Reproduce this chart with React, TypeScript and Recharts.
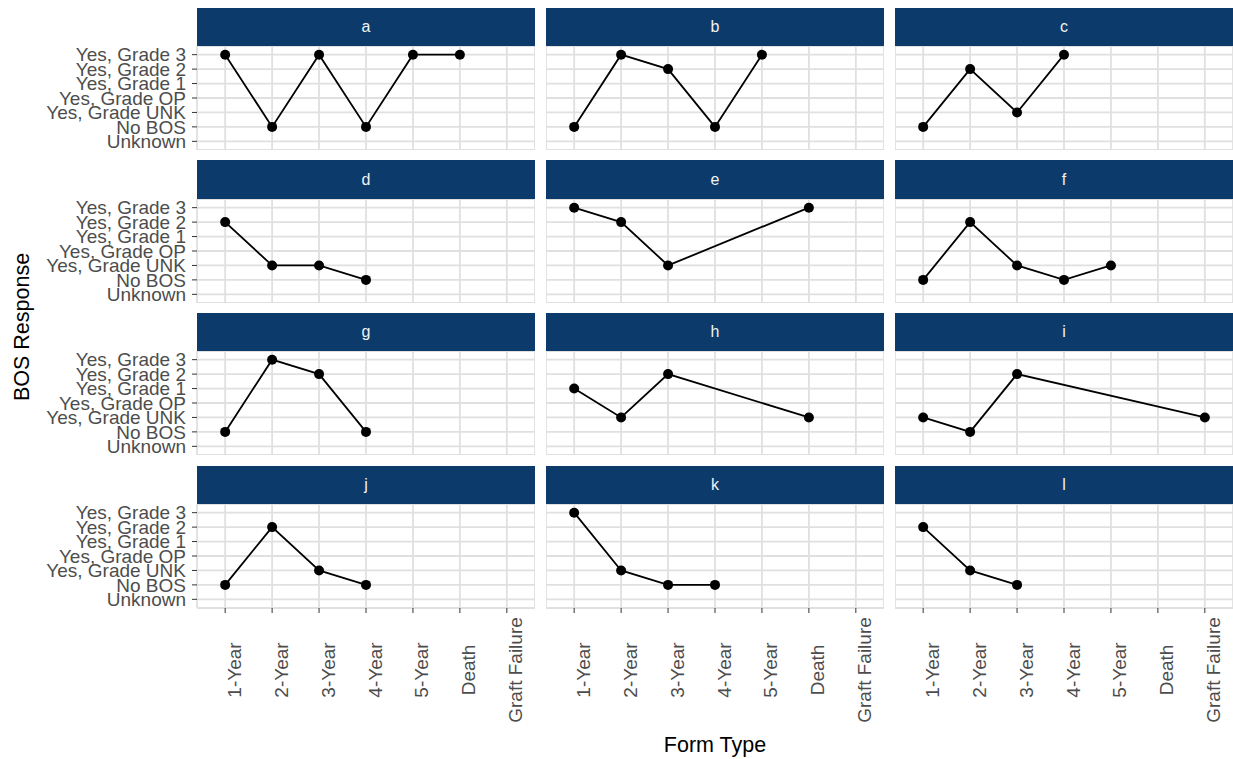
import { CartesianGrid, Line, LineChart, XAxis, YAxis } from "recharts";

const formTypes = ["1-Year", "2-Year", "3-Year", "4-Year", "5-Year", "Death", "Graft Failure"];

const bosLevels = [
  "Unknown",
  "No BOS",
  "Yes, Grade UNK",
  "Yes, Grade OP",
  "Yes, Grade 1",
  "Yes, Grade 2",
  "Yes, Grade 3",
];

const panelA: [string, string][] = [
  ["1-Year", "Yes, Grade 3"],
  ["2-Year", "No BOS"],
  ["3-Year", "Yes, Grade 3"],
  ["4-Year", "No BOS"],
  ["5-Year", "Yes, Grade 3"],
  ["Death", "Yes, Grade 3"],
];
const panelB: [string, string][] = [
  ["1-Year", "No BOS"],
  ["2-Year", "Yes, Grade 3"],
  ["3-Year", "Yes, Grade 2"],
  ["4-Year", "No BOS"],
  ["5-Year", "Yes, Grade 3"],
];
const panelC: [string, string][] = [
  ["1-Year", "No BOS"],
  ["2-Year", "Yes, Grade 2"],
  ["3-Year", "Yes, Grade UNK"],
  ["4-Year", "Yes, Grade 3"],
];
const panelD: [string, string][] = [
  ["1-Year", "Yes, Grade 2"],
  ["2-Year", "Yes, Grade UNK"],
  ["3-Year", "Yes, Grade UNK"],
  ["4-Year", "No BOS"],
];
const panelE: [string, string][] = [
  ["1-Year", "Yes, Grade 3"],
  ["2-Year", "Yes, Grade 2"],
  ["3-Year", "Yes, Grade UNK"],
  ["Death", "Yes, Grade 3"],
];
const panelF: [string, string][] = [
  ["1-Year", "No BOS"],
  ["2-Year", "Yes, Grade 2"],
  ["3-Year", "Yes, Grade UNK"],
  ["4-Year", "No BOS"],
  ["5-Year", "Yes, Grade UNK"],
];
const panelG: [string, string][] = [
  ["1-Year", "No BOS"],
  ["2-Year", "Yes, Grade 3"],
  ["3-Year", "Yes, Grade 2"],
  ["4-Year", "No BOS"],
];
const panelH: [string, string][] = [
  ["1-Year", "Yes, Grade 1"],
  ["2-Year", "Yes, Grade UNK"],
  ["3-Year", "Yes, Grade 2"],
  ["Death", "Yes, Grade UNK"],
];
const panelI: [string, string][] = [
  ["1-Year", "Yes, Grade UNK"],
  ["2-Year", "No BOS"],
  ["3-Year", "Yes, Grade 2"],
  ["Graft Failure", "Yes, Grade UNK"],
];
const panelJ: [string, string][] = [
  ["1-Year", "No BOS"],
  ["2-Year", "Yes, Grade 2"],
  ["3-Year", "Yes, Grade UNK"],
  ["4-Year", "No BOS"],
];
const panelK: [string, string][] = [
  ["1-Year", "Yes, Grade 3"],
  ["2-Year", "Yes, Grade UNK"],
  ["3-Year", "No BOS"],
  ["4-Year", "No BOS"],
];
const panelL: [string, string][] = [
  ["1-Year", "Yes, Grade 2"],
  ["2-Year", "Yes, Grade UNK"],
  ["3-Year", "No BOS"],
];

const panelLabels = ["a", "b", "c", "d", "e", "f", "g", "h", "i", "j", "k", "l"];
const panels = [panelA, panelB, panelC, panelD, panelE, panelF, panelG, panelH, panelI, panelJ, panelK, panelL];

// layout (page pixels)
const COL_X = [197, 546, 895];
const PANEL_W = 338;
const ROW_Y = [7.7, 160.4, 313, 465.7];
const STRIP_H = 38.3;
const PLOT_H = 104;
const FONT = '"Liberation Sans", Arial, sans-serif';

const xTicks = formTypes.map((_, i) => i);
const yTicks = bosLevels.map((_, i) => i);

const XTick = (props: any) => {
  const { x, y, payload } = props;
  return (
    <text
      transform={`translate(${x + 15.5}, ${y + 55}) rotate(-90)`}
      textAnchor="middle"
      fill="#4d4d4d"
      fontSize={19}
      fontFamily={FONT}
    >
      {formTypes[payload.value]}
    </text>
  );
};

const Panel = ({ index }: { index: number }) => {
  const row = Math.floor(index / 3);
  const col = index % 3;
  const isLeft = col === 0;
  const isBottom = row === 3;
  const yAxisW = isLeft ? COL_X[0] : 0;
  const xAxisH = isBottom ? 130 : 0;
  const data = panels[index].map(([form, bos]) => ({
    x: formTypes.indexOf(form),
    y: bosLevels.indexOf(bos),
  }));

  return (
    <>
      <div
        style={{
          position: "absolute",
          left: COL_X[col],
          top: ROW_Y[row],
          width: PANEL_W,
          height: STRIP_H,
          background: "#0c3b6b",
          color: "#f2f2f2",
          display: "flex",
          alignItems: "center",
          justifyContent: "center",
          fontSize: 16,
          fontFamily: FONT,
        }}
      >
        {panelLabels[index]}
      </div>
      <div style={{ position: "absolute", left: COL_X[col] - yAxisW, top: ROW_Y[row] + STRIP_H }}>
        <LineChart
          width={PANEL_W + yAxisW}
          height={PLOT_H + xAxisH}
          data={data}
          margin={{ top: 0, right: 0, bottom: 0, left: 0 }}
        >
          <CartesianGrid stroke="#e0e0e0" strokeWidth={1.8} />
          <XAxis
            type="number"
            dataKey="x"
            domain={[-0.6, 6.6]}
            ticks={xTicks}
            interval={0}
            hide={!isBottom}
            height={xAxisH}
            axisLine={false}
            tickLine={{ stroke: "#333333" }}
            tickSize={5}
            tick={<XTick />}
          />
          <YAxis
            type="number"
            dataKey="y"
            domain={[-0.6, 6.6]}
            ticks={yTicks}
            interval={0}
            hide={!isLeft}
            width={yAxisW}
            axisLine={false}
            tickLine={{ stroke: "#333333" }}
            tickSize={5}
            tickMargin={6}
            tickFormatter={(v: number) => bosLevels[v]}
            tick={{ fill: "#4d4d4d", fontSize: 19, fontFamily: FONT }}
          />
          <Line
            type="linear"
            dataKey="y"
            stroke="#000000"
            strokeWidth={1.8}
            dot={{ r: 5, fill: "#000000", stroke: "#000000", strokeWidth: 0 }}
            isAnimationActive={false}
          />
        </LineChart>
      </div>
    </>
  );
};

export default function App() {
  return (
    <div
      style={{
        position: "absolute",
        left: 0,
        top: 0,
        width: 1233,
        height: 759,
        background: "#ffffff",
        fontFamily: FONT,
      }}
    >
      {panels.map((_, i) => (
        <Panel key={i} index={i} />
      ))}
      <div
        style={{
          position: "absolute",
          left: 22,
          top: 327,
          transform: "translate(-50%, -50%) rotate(-90deg)",
          fontSize: 21.5,
          color: "#000000",
          whiteSpace: "nowrap",
        }}
      >
        BOS Response
      </div>
      <div
        style={{
          position: "absolute",
          left: 715,
          top: 745,
          transform: "translate(-50%, -50%)",
          fontSize: 21.5,
          color: "#000000",
          whiteSpace: "nowrap",
        }}
      >
        Form Type
      </div>
    </div>
  );
}
